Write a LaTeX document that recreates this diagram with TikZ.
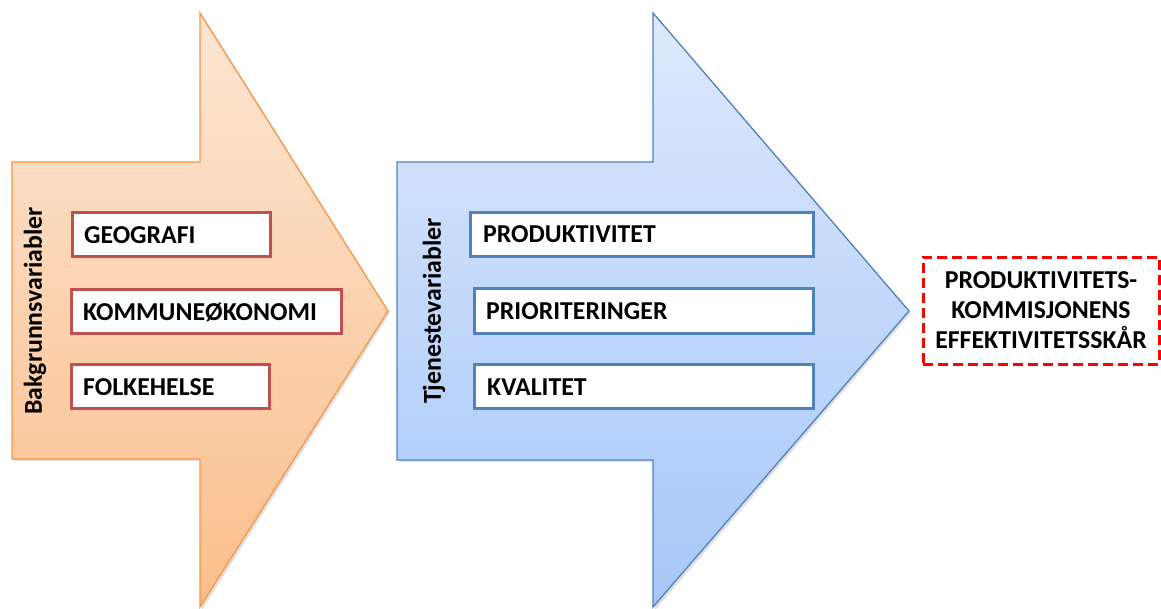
\documentclass[tikz,border=0pt]{standalone}
\usepackage{fontspec}
\setmainfont{Carlito}
\begin{document}
\begin{tikzpicture}[x=1pt,y=-1pt,
  bigarrow/.style={line width=1.3pt, line join=miter},
  itembox/.style={draw, line width=3pt, fill=white},
  itemtext/.style={anchor=west, inner sep=0pt, font=\fontsize{25.8}{30}\selectfont\bfseries},
  sidelabel/.style={rotate=90, inner sep=0pt, font=\fontsize{25.8}{30}\selectfont\bfseries},
  resultbox/.style={draw=red, dashed, dash pattern=on 10pt off 5pt, line width=3pt, fill=white, align=center, font=\fontsize{25.8}{30}\selectfont\bfseries}
]
\definecolor{orline}{RGB}{247,150,70}
\definecolor{ortop}{RGB}{253,230,211}
\definecolor{orbot}{RGB}{250,190,140}
\definecolor{blline}{RGB}{79,129,189}
\definecolor{bltop}{RGB}{221,233,252}
\definecolor{blbot}{RGB}{166,199,249}
\definecolor{boxred}{RGB}{192,80,77}
\definecolor{boxblue}{RGB}{79,129,189}
\useasboundingbox (0,0) rectangle (1161,608);

% shadows
\fill[black!12] (14,164) -- (202,164) -- (202,15) -- (390,313) -- (202,610) -- (202,461) -- (14,461) -- cycle;
\fill[black!12] (399,164) -- (655,164) -- (655,15) -- (911,313) -- (655,610) -- (655,462) -- (399,462) -- cycle;

% orange arrow
\draw[bigarrow, draw=orline, top color=ortop, bottom color=orbot]
  (12,162) coordinate (oa1) -- (200,162) -- (200,13) coordinate (oatop) -- (388,311) coordinate (oatip) -- (200,607) -- (200,459) -- (12,459) -- cycle;
% blue arrow
\draw[bigarrow, draw=blline, top color=bltop, bottom color=blbot]
  (397,162) coordinate (ba1) -- (653,162) -- (653,13) coordinate (batop) -- (909,311) coordinate (batip) -- (653,607) -- (653,460) -- (397,460) -- cycle;

% orange items
\draw[itembox, draw=boxred] (72,212) rectangle (270,256);
\node[itemtext] (geo) at (84,235) {GEOGRAFI};
\draw[itembox, draw=boxred] (71,289) rectangle (341,333);
\node[itemtext] (kom) at (83,312) {KOMMUNEØKONOMI};
\draw[itembox, draw=boxred] (71,364) rectangle (269,408);
\node[itemtext] (fol) at (83,387) {FOLKEHELSE};
\node[sidelabel] (bak) at (35,311) {Bakgrunnsvariabler};

% blue items
\draw[itembox, draw=boxblue] (470,212) rectangle (813,256);
\node[itemtext] (pro) at (483,234) {PRODUKTIVITET};
\draw[itembox, draw=boxblue] (474,288) rectangle (813,333);
\node[itemtext] (pri) at (486,311) {PRIORITERINGER};
\draw[itembox, draw=boxblue] (474,364) rectangle (813,408);
\node[itemtext] (kva) at (487,387) {KVALITET};
\node[sidelabel] (tje) at (434,311) {Tjenestevariabler};

% result
\node[resultbox, minimum width=236pt, minimum height=107pt, inner sep=0pt] (res) at (1041,310.5)
  {PRODUKTIVITETS-\\KOMMISJONENS\\EFFEKTIVITETSSKÅR};
\end{tikzpicture}
\end{document}
